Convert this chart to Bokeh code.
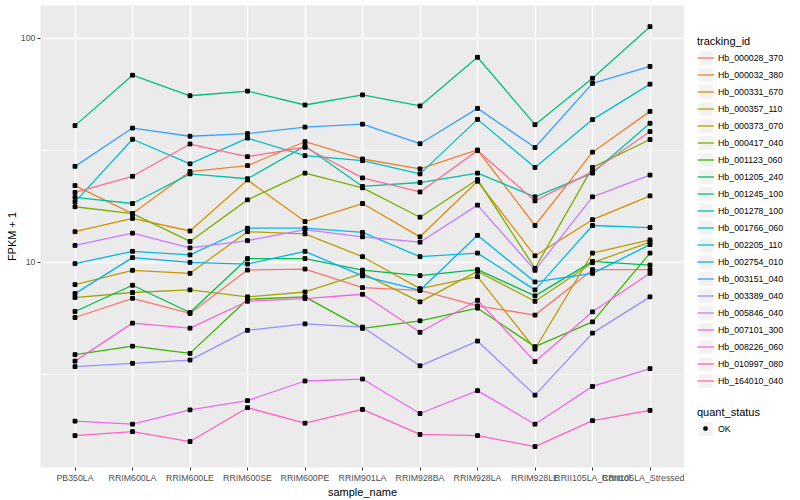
from bokeh.plotting import figure
from bokeh.layouts import row
from bokeh.models import FactorRange, Range1d, FixedTicker, Legend, LegendItem
from bokeh.embed import file_html
from bokeh.resources import INLINE

# ---------------- data ----------------
samples = ["PB350LA", "RRIM600LA", "RRIM600LE", "RRIM600SE", "RRIM600PE", "RRIM901LA",
           "RRIM928BA", "RRIM928LA", "RRIM928LE", "RRII105LA_Control", "RRII105LA_Stressed"]

tracking_ids = ["Hb_000028_370", "Hb_000032_380", "Hb_000331_670", "Hb_000357_110",
                "Hb_000373_070", "Hb_000417_040", "Hb_001123_060", "Hb_001205_240",
                "Hb_001245_100", "Hb_001278_100", "Hb_001766_060", "Hb_002205_110",
                "Hb_002754_010", "Hb_003151_040", "Hb_003389_040", "Hb_005846_040",
                "Hb_007101_300", "Hb_008226_060", "Hb_010997_080", "Hb_164010_040"]

colors = ["#F8766D", "#EA8331", "#D89000", "#C09B00", "#A3A500", "#7CAE00", "#39B600",
          "#00BB4E", "#00BF7D", "#00C1A3", "#00BFC4", "#00BAE0", "#00B0F6", "#35A2FF",
          "#9590FF", "#C77CFF", "#E76BF3", "#FA62DB", "#FF62BC", "#FF6C91"]

# FPKM + 1 per sample (in the order of `samples`)
Hb_000028_370 = [5.68, 6.92, 5.92, 9.24, 9.34, 7.72, 7.51, 6.40, 5.82, 9.28, 9.28]
Hb_000032_380 = [22.0, 16.5, 25.4, 27.0, 34.5, 28.9, 26.1, 31.7, 14.6, 31.0, 47.1]
Hb_000331_670 = [13.7, 15.7, 13.8, 23.3, 15.2, 18.3, 13.0, 23.0, 10.7, 15.5, 19.8]
Hb_000357_110 = [7.96, 9.22, 8.94, 13.7, 13.4, 10.6, 7.64, 8.64, 4.11, 11.0, 12.6]
Hb_000373_070 = [6.97, 7.34, 7.54, 7.02, 7.38, 8.94, 6.67, 9.12, 6.71, 9.97, 12.3]
Hb_000417_040 = [17.7, 16.5, 12.4, 19.0, 25.0, 21.5, 15.9, 23.4, 9.41, 26.5, 35.3]
Hb_001123_060 = [3.88, 4.23, 3.93, 6.85, 7.02, 5.08, 5.49, 6.25, 4.21, 5.43, 11.0]
Hb_001205_240 = [6.04, 7.91, 5.98, 10.4, 10.4, 9.24, 8.73, 9.28, 7.09, 10.1, 9.73]
Hb_001245_100 = [40.7, 68.3, 55.3, 58.0, 50.3, 55.8, 49.8, 82.1, 41.1, 66.2, 112.4]
Hb_001278_100 = [19.5, 18.3, 24.8, 23.6, 33.0, 21.8, 22.7, 25.0, 19.6, 25.0, 41.7]
Hb_001766_060 = [18.6, 35.4, 27.5, 35.8, 29.9, 28.4, 24.8, 43.4, 26.5, 43.3, 62.3]
Hb_002205_110 = [9.87, 11.2, 10.8, 14.2, 14.2, 13.6, 10.6, 11.0, 7.54, 14.6, 14.3]
Hb_002754_010 = [7.26, 10.5, 10.0, 9.83, 11.2, 8.70, 7.51, 13.2, 8.18, 8.94, 12.0]
Hb_003151_040 = [26.8, 39.7, 36.5, 37.5, 40.1, 41.3, 33.8, 48.6, 32.5, 62.8, 74.7]
Hb_003389_040 = [3.43, 3.55, 3.67, 4.98, 5.32, 5.15, 3.46, 4.46, 2.56, 4.84, 7.02]
Hb_005846_040 = [11.9, 13.5, 11.6, 12.5, 14.0, 13.0, 12.3, 18.0, 9.22, 19.6, 24.5]
Hb_007101_300 = [1.96, 1.90, 2.20, 2.42, 2.96, 3.02, 2.12, 2.68, 1.90, 2.80, 3.36]
Hb_008226_060 = [3.63, 5.36, 5.09, 6.71, 6.90, 7.21, 4.88, 6.78, 3.61, 6.02, 8.94]
Hb_010997_080 = [1.69, 1.76, 1.59, 2.25, 1.92, 2.21, 1.71, 1.69, 1.51, 1.97, 2.19]
Hb_164010_040 = [20.5, 24.2, 33.7, 29.6, 32.6, 23.8, 20.6, 31.5, 18.8, 25.4, 38.3]

series = [Hb_000028_370, Hb_000032_380, Hb_000331_670, Hb_000357_110, Hb_000373_070,
          Hb_000417_040, Hb_001123_060, Hb_001205_240, Hb_001245_100, Hb_001278_100,
          Hb_001766_060, Hb_002205_110, Hb_002754_010, Hb_003151_040, Hb_003389_040,
          Hb_005846_040, Hb_007101_300, Hb_008226_060, Hb_010997_080, Hb_164010_040]

quant_status = ["OK"]
y_ticks = [10, 100]
y_tick_labels = ["10", "100"]
y_minor_ticks = [10 ** 0.5, 10 ** 1.5]

# ---------------- main figure ----------------
FONT = "Liberation Sans"

p = figure(x_range=FactorRange(factors=samples, range_padding=0.1, range_padding_units="absolute"),
           y_range=Range1d(10 ** 0.0857, 10 ** 2.1451), y_axis_type="log",
           frame_width=644, height=500,
           min_border_left=40, min_border_right=0, min_border_top=5, min_border_bottom=0,
           output_backend="svg", toolbar_location=None,
           background_fill_color="#EBEBEB", border_fill_color="white", outline_line_color=None)

yt = FixedTicker(ticks=y_ticks, minor_ticks=y_minor_ticks)
p.yaxis.ticker = yt
p.ygrid.ticker = yt
p.ygrid.grid_line_color = "white"
p.ygrid.grid_line_width = 1.4
p.ygrid.minor_grid_line_color = "white"
p.ygrid.minor_grid_line_width = 0.7
p.xgrid.grid_line_color = "white"
p.xgrid.grid_line_width = 1.4

for ax in (p.xaxis[0], p.yaxis[0]):
    ax.axis_line_color = None
    ax.major_tick_line_color = "#333333"
    ax.major_tick_line_width = 1
    ax.major_tick_out = 3
    ax.major_tick_in = 0
    ax.minor_tick_line_color = None
    ax.major_label_text_font = FONT
    ax.major_label_text_font_size = "8.8px"
    ax.major_label_text_color = "#4D4D4D"
    ax.axis_label_text_font = FONT
    ax.axis_label_text_font_size = "11px"
    ax.axis_label_text_font_style = "normal"
    ax.axis_label_text_color = "black"

p.xaxis.axis_label = "sample_name"
p.xaxis.major_label_standoff = 2
p.xaxis.axis_label_standoff = 0
p.yaxis.axis_label = "FPKM + 1"
p.yaxis.major_label_standoff = 1
p.yaxis.axis_label_standoff = 0
p.yaxis.major_label_overrides = dict(zip(y_ticks, y_tick_labels))

for col, vals in zip(colors, series):
    p.line(x=samples, y=vals, line_color=col, line_width=1.3)

pts_x = [s for vals in series for s in samples]
pts_y = [v for vals in series for v in vals]
p.scatter(x=pts_x, y=pts_y, marker="square", size=3.8, color="black")

# ---------------- legend panel ----------------
lg = figure(width=114, height=500, x_range=Range1d(0, 1), y_range=Range1d(0, 1),
            x_axis_location=None, y_axis_location=None,
            min_border_left=0, min_border_right=0, min_border_top=0, min_border_bottom=0,
            output_backend="svg", toolbar_location=None,
            background_fill_color="white", border_fill_color="white", outline_line_color=None)
lg.grid.visible = False

# legend-only renderers, placed outside the visible (0..1) range of the legend panel
off = [-5, -4]
key_bg = lg.rect(x=off[:1], y=off[:1], width=0.1, height=0.1, fill_color="#F2F2F2", line_color=None)
key_lines = [lg.line(x=off, y=off, line_color=col, line_width=1.3) for col in colors]
key_pt = lg.scatter(x=off[:1], y=off[:1], marker="square", color="black")

legend_style = dict(
    title_text_font=FONT, title_text_font_size="11px", title_text_color="black",
    title_text_font_style="normal", title_standoff=2,
    label_text_font=FONT, label_text_font_size="8.8px", label_text_color="black",
    glyph_width=17, glyph_height=17, label_height=17, label_standoff=4,
    spacing=0, padding=0, margin=0,
    border_line_color=None, background_fill_alpha=0,
)

items1 = [LegendItem(label=name, renderers=[key_bg, r]) for name, r in zip(tracking_ids, key_lines)]
lg.add_layout(Legend(items=items1, title="tracking_id", location=(13, 78), **legend_style))

items2 = [LegendItem(label=q, renderers=[key_bg]) for q in quant_status]
lg.add_layout(Legend(items=items2, title="quant_status", location=(13, 30), **legend_style))

items3 = [LegendItem(label=" ", renderers=[key_pt]) for q in quant_status]
lg.add_layout(Legend(items=items3, location=(17, 35), glyph_width=8, glyph_height=8, label_height=8,
                     label_text_font_size="1px", label_standoff=0, spacing=0, padding=0, margin=0,
                     border_line_color=None, background_fill_alpha=0))

with open("out.html", "w") as f:
    f.write(file_html(row(p, lg), INLINE))
